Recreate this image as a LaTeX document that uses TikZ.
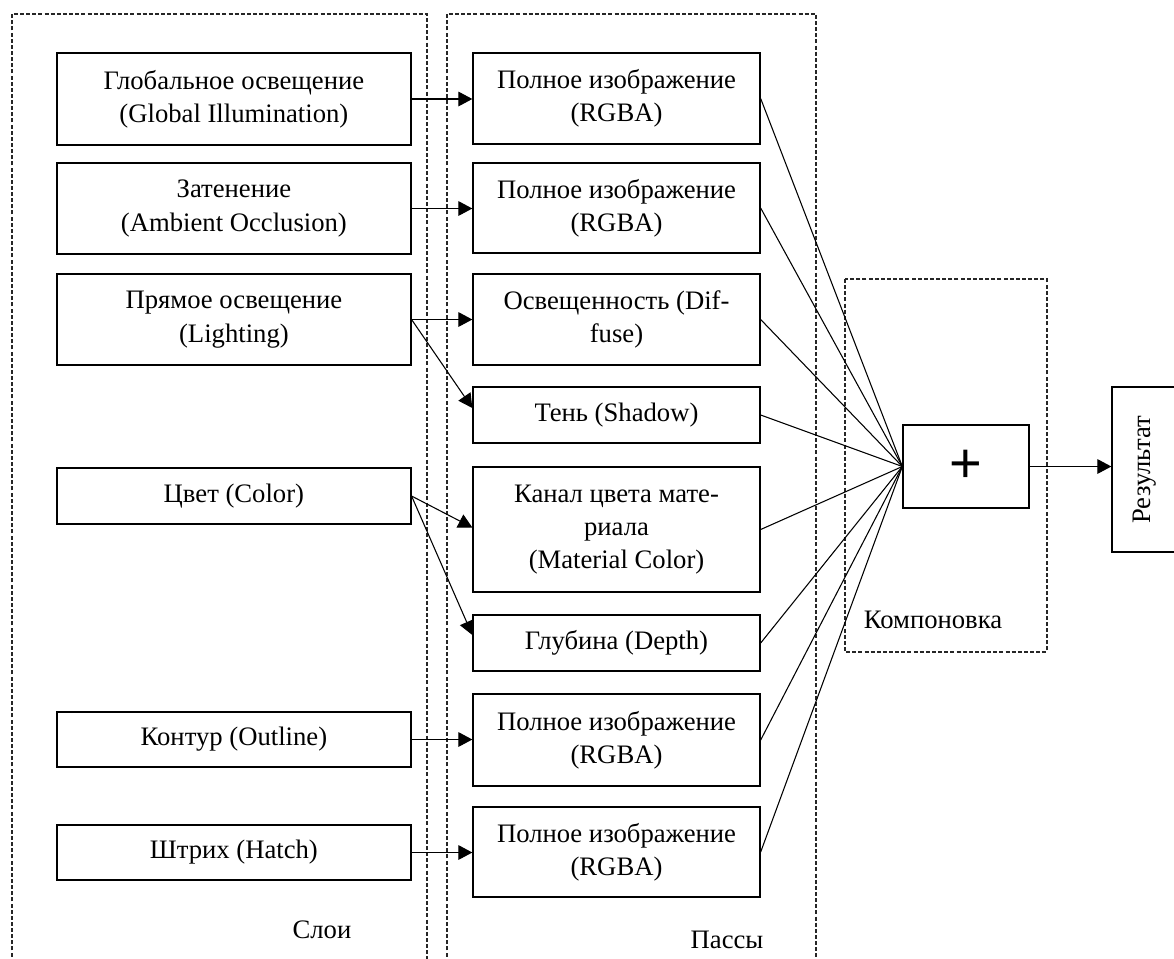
\documentclass[tikz,border=0pt]{standalone}
\usepackage{fontspec}
\setmainfont{Liberation Serif}
\newfontfamily\plusfont{Liberation Sans}
\usetikzlibrary{arrows.meta,calc}

\tikzset{every picture/.style={line width=0.75pt}}
\tikzset{
	layerbox/.style={draw, line width=1pt, minimum width=265.5pt, align=center, inner sep=2pt},
	passbox/.style={draw, line width=1pt, minimum width=215.25pt, align=center, inner sep=2pt},
	groupframe/.style={draw=black!85, line width=0.8pt, dash pattern=on 3pt off 1.6pt},
	link/.style={line width=0.8pt},
	feed/.style={line width=0.8pt, -{Triangle[length=10.5pt,width=11pt]}}
}

\begin{document}
\begin{tikzpicture}[x=0.75pt,y=0.75pt,yscale=-1,xscale=1,font=\fontsize{20}{25}\selectfont]
	\useasboundingbox (0,0) rectangle (1174,958);

	%Dashed groups
	\draw [groupframe] (12,975) -- (12,14) -- (427,14) -- (427,975) ;
	\draw [groupframe] (447,975) -- (447,14) -- (816,14) -- (816,975) ;
	\draw [groupframe] (845,279) rectangle (1047,652) ;

	%Layers
	\node [layerbox, minimum height=69pt] (gi) at (233.9,99) {Глобальное освещение\\(Global Illumination)};
	\node [layerbox, minimum height=68.25pt] (ao) at (233.9,208.5) {Затенение\\(Ambient Occlusion)};
	\node [layerbox, minimum height=68.25pt] (light) at (233.9,319.5) {Прямое освещение\\(Lighting)};
	\node [layerbox, minimum height=42pt] (color) at (233.9,496) {Цвет (Color)};
	\node [layerbox, minimum height=41.25pt] (outline) at (233.9,739.5) {Контур (Outline)};
	\node [layerbox, minimum height=41.25pt] (hatch) at (233.9,852.5) {Штрих (Hatch)};

	%Passes
	\node [passbox, minimum height=68.25pt] (rgba1) at (616.5,98.5) {Полное изображение\\(RGBA)};
	\node [passbox, minimum height=67.5pt] (rgba2) at (616.5,208) {Полное изображение\\(RGBA)};
	\node [passbox, minimum height=68.25pt] (diffuse) at (616.5,319.5) {Освещенность (Dif-\\fuse)};
	\node [passbox, minimum height=42pt] (shadow) at (616.5,415) {Тень (Shadow)};
	\node [passbox, minimum height=93.75pt] (matcol) at (616.5,529.5) {Канал цвета мате-\\риала\\(Material Color)};
	\node [passbox, minimum height=42pt] (depth) at (616.5,643) {Глубина (Depth)};
	\node [passbox, minimum height=69pt] (rgba3) at (616.5,740) {Полное изображение\\(RGBA)};
	\node [passbox, minimum height=67.5pt] (rgba4) at (616.5,852) {Полное изображение\\(RGBA)};

	%Compositing
	\node [draw, line width=1pt, minimum width=94.5pt, minimum height=62.25pt, font=\plusfont\fontsize{42}{42}\selectfont] (plus) at (966,466.5) {+};
	\node [draw, line width=1pt, minimum width=49.5pt, minimum height=123.75pt, inner sep=0pt] (result) at (1145,469.5) {\rotatebox{90}{Результат}};

	% Text Node
	\node (layerslbl) at (322,930) {Слои};
	% Text Node
	\node (passeslbl) at (727,940) {Пассы};
	% Text Node
	\node (complbl) at (933,620) {Компоновка};

	%Straight Lines
	\draw [feed] (gi.east) -- (gi.east -| rgba1.west) ;
	\draw [feed] (ao.east) -- (ao.east -| rgba2.west) ;
	\draw [feed] (light.east) -- (light.east -| diffuse.west) ;
	\draw [feed] (light.east) -- ($(shadow.west)+(0,-7)$) ;
	\draw [feed] (color.east) -- ($(matcol.west)+(0,-2)$) ;
	\draw [feed] (color.east) -- ($(depth.west)+(0,-8)$) ;
	\draw [feed] (outline.east) -- (outline.east -| rgba3.west) ;
	\draw [feed] (hatch.east) -- (hatch.east -| rgba4.west) ;

	\foreach \pass in {rgba1,rgba2,diffuse,shadow,matcol,depth,rgba3,rgba4}
		\draw [link] (\pass.east) -- (plus.west) ;

	\draw [feed] (plus.east) -- (plus.east -| result.west) ;

\end{tikzpicture}
\end{document}
